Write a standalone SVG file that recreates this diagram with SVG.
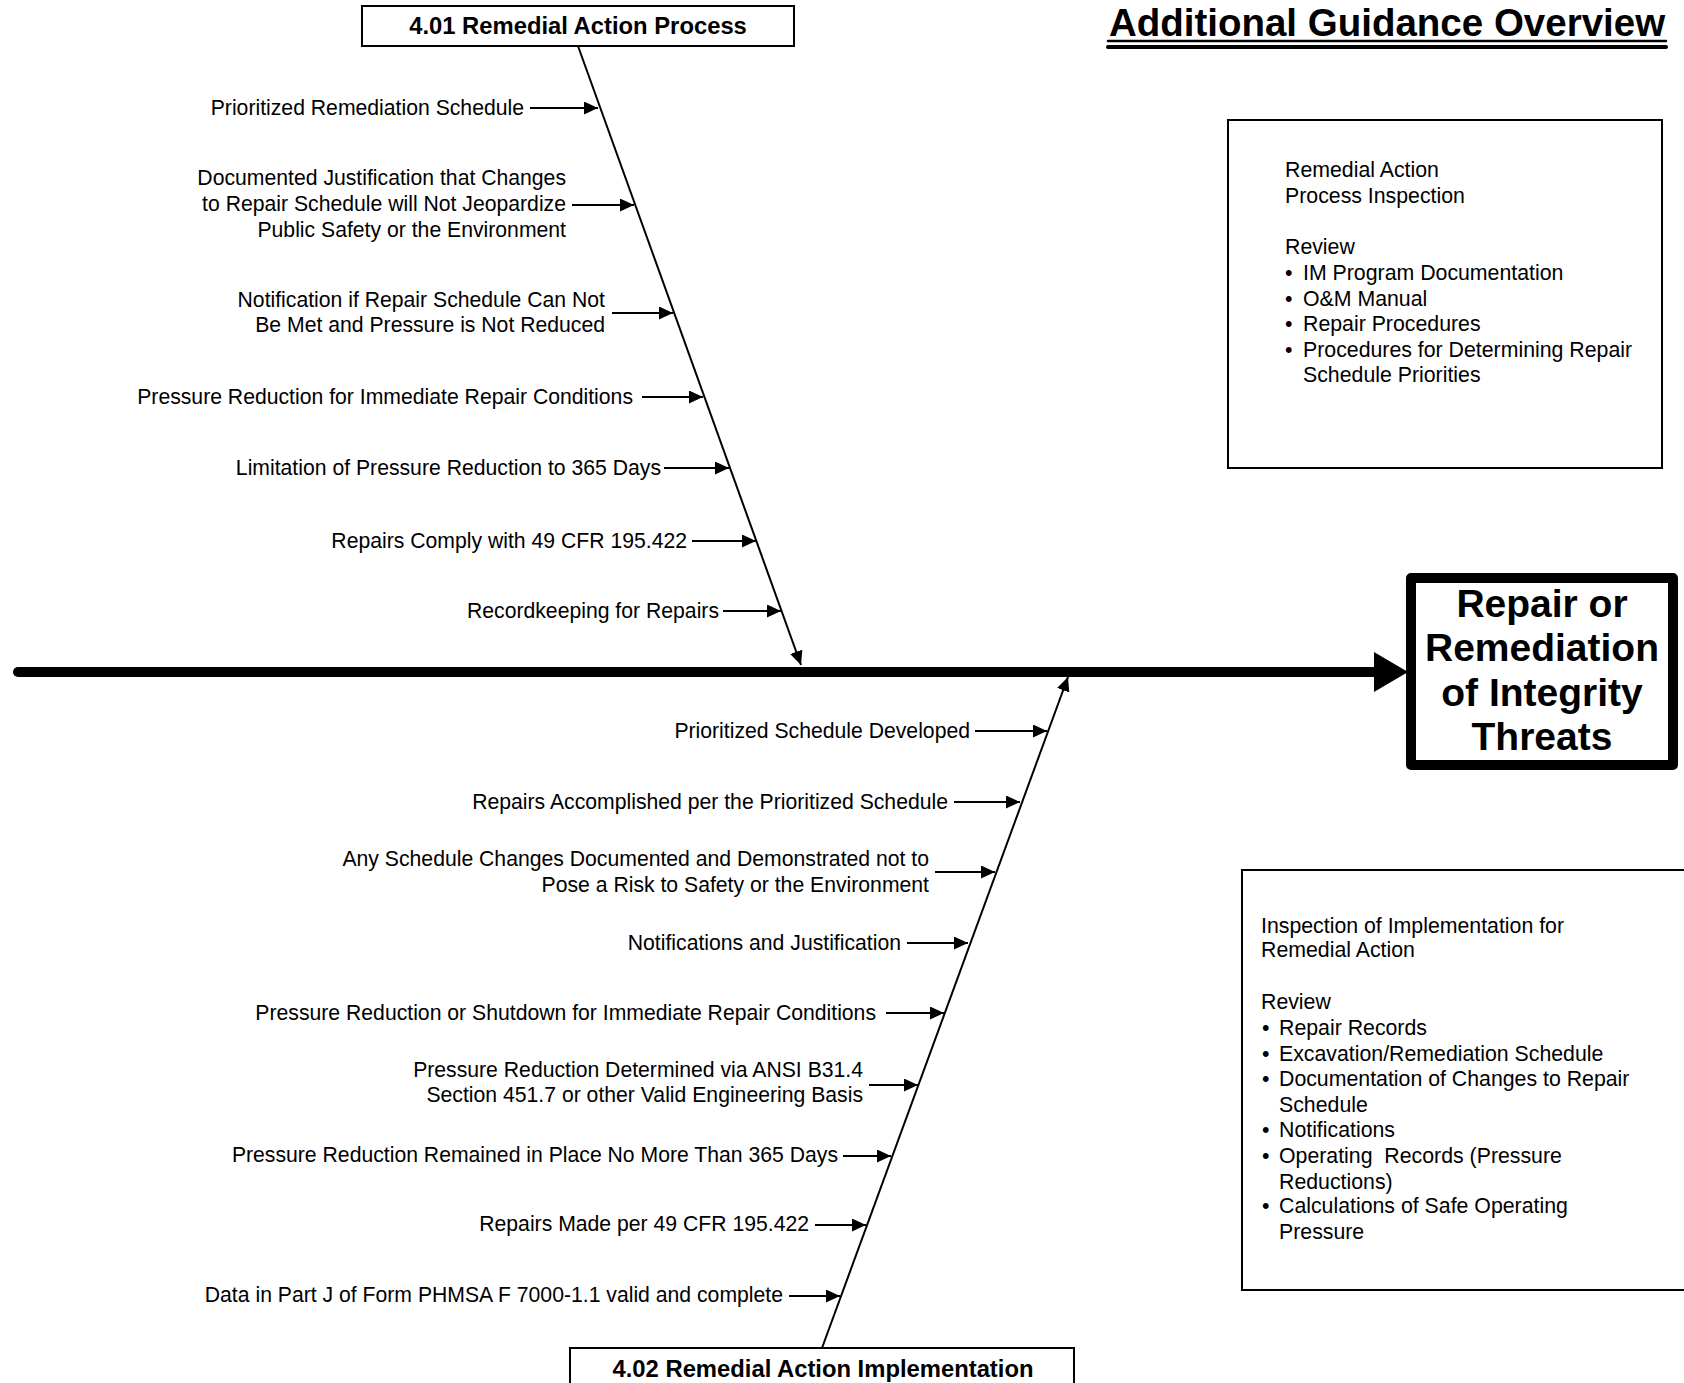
<svg xmlns="http://www.w3.org/2000/svg" width="1684" height="1383" viewBox="0 0 1684 1383">
  <style>
    text { font-family: "Liberation Sans", Arial, sans-serif; fill: #000; }
    .lbl { font-size: 21.2px; text-anchor: end; }
    .note { font-size: 21.3px; }
    .cat { font-size: 23.8px; font-weight: bold; text-anchor: middle; }
    .head { font-size: 39px; font-weight: bold; text-anchor: middle; }
    .box { fill: #fff; stroke: #000; stroke-width: 2; }
    .arrow { fill: none; stroke: #000; stroke-width: 2; marker-end: url(#tip); }
  </style>
  <defs>
    <marker id="tip" markerUnits="userSpaceOnUse" markerWidth="15" markerHeight="14" refX="14" refY="6.5" orient="auto">
      <path d="M0,0 L14,6.5 L0,13 z" fill="#000"/>
    </marker>
  </defs>

  <rect width="1684" height="1383" fill="#fff"/>

  <!-- page title -->
  <g id="title">
    <text x="1387" y="36" font-size="38.5" font-weight="bold" text-anchor="middle">Additional Guidance Overview</text>
    <line x1="1108" y1="41" x2="1666" y2="41" stroke="#000" stroke-width="2.5" stroke-linecap="round"/>
    <line x1="1108" y1="47" x2="1666" y2="47" stroke="#000" stroke-width="4" stroke-linecap="round"/>
  </g>

  <!-- main spine and connectors -->
  <g id="connectors">
    <line x1="18" y1="672" x2="1376" y2="672" stroke="#000" stroke-width="10" stroke-linecap="round"/>
    <polygon points="1374,652 1408,672 1374,692" fill="#000"/>

    <!-- upper bone -->
    <line class="arrow" x1="578" y1="46" x2="801" y2="665"/>
    <line class="arrow" x1="530" y1="108" x2="598" y2="108"/>
    <line class="arrow" x1="572" y1="205" x2="634" y2="205"/>
    <line class="arrow" x1="612" y1="313" x2="673" y2="313"/>
    <line class="arrow" x1="642" y1="397" x2="703" y2="397"/>
    <line class="arrow" x1="664" y1="468" x2="729" y2="468"/>
    <line class="arrow" x1="692" y1="541" x2="756" y2="541"/>
    <line class="arrow" x1="723" y1="611" x2="781" y2="611"/>

    <!-- lower bone -->
    <line class="arrow" x1="822" y1="1348" x2="1068" y2="677"/>
    <line class="arrow" x1="975" y1="731" x2="1047" y2="731"/>
    <line class="arrow" x1="954" y1="802" x2="1020" y2="802"/>
    <line class="arrow" x1="935" y1="872" x2="995" y2="872"/>
    <line class="arrow" x1="907" y1="943" x2="968" y2="943"/>
    <line class="arrow" x1="886" y1="1013" x2="944" y2="1013"/>
    <line class="arrow" x1="869" y1="1085" x2="918" y2="1085"/>
    <line class="arrow" x1="843" y1="1156" x2="891" y2="1156"/>
    <line class="arrow" x1="815" y1="1225" x2="866" y2="1225"/>
    <line class="arrow" x1="789" y1="1296" x2="840" y2="1296"/>
  </g>

  <!-- category: 4.01 -->
  <g id="cat-401">
    <rect class="box" x="362" y="6" width="432" height="40"/>
    <text class="cat" x="578" y="34">4.01 Remedial Action Process</text>
  </g>

  <!-- category: 4.02 -->
  <g id="cat-402">
    <rect class="box" x="570" y="1348" width="504" height="60"/>
    <text class="cat" x="823" y="1377">4.02 Remedial Action Implementation</text>
  </g>

  <!-- effect box -->
  <g id="effect">
    <rect x="1411" y="578" width="262" height="187" fill="#fff" stroke="#000" stroke-width="10" stroke-linejoin="round"/>
    <text class="head" x="1542" y="617">Repair or</text>
    <text class="head" x="1542" y="661">Remediation</text>
    <text class="head" x="1542" y="706">of Integrity</text>
    <text class="head" x="1542" y="750">Threats</text>
  </g>

  <!-- upper causes -->
  <g id="u1"><text class="lbl" x="524" y="115">Prioritized Remediation Schedule</text></g>
  <g id="u2">
    <text class="lbl" x="566" y="185">Documented Justification that Changes</text>
    <text class="lbl" x="566" y="211">to Repair Schedule will Not Jeopardize</text>
    <text class="lbl" x="566" y="237">Public Safety or the Environment</text>
  </g>
  <g id="u3">
    <text class="lbl" x="605" y="307">Notification if Repair Schedule Can Not</text>
    <text class="lbl" x="605" y="332">Be Met and Pressure is Not Reduced</text>
  </g>
  <g id="u4"><text class="lbl" x="633" y="404">Pressure Reduction for Immediate Repair Conditions</text></g>
  <g id="u5"><text class="lbl" x="661" y="475">Limitation of Pressure Reduction to 365 Days</text></g>
  <g id="u6"><text class="lbl" x="687" y="548">Repairs Comply with 49 CFR 195.422</text></g>
  <g id="u7"><text class="lbl" x="719" y="618">Recordkeeping for Repairs</text></g>

  <!-- lower causes -->
  <g id="l1"><text class="lbl" x="970" y="738">Prioritized Schedule Developed</text></g>
  <g id="l2"><text class="lbl" x="948" y="809">Repairs Accomplished per the Prioritized Schedule</text></g>
  <g id="l3">
    <text class="lbl" x="929" y="866">Any Schedule Changes Documented and Demonstrated not to</text>
    <text class="lbl" x="929" y="892">Pose a Risk to Safety or the Environment</text>
  </g>
  <g id="l4"><text class="lbl" x="901" y="950">Notifications and Justification</text></g>
  <g id="l5"><text class="lbl" x="876" y="1020">Pressure Reduction or Shutdown for Immediate Repair Conditions</text></g>
  <g id="l6">
    <text class="lbl" x="863" y="1077">Pressure Reduction Determined via ANSI B31.4</text>
    <text class="lbl" x="863" y="1102">Section 451.7 or other Valid Engineering Basis</text>
  </g>
  <g id="l7"><text class="lbl" x="838" y="1162">Pressure Reduction Remained in Place No More Than 365 Days</text></g>
  <g id="l8"><text class="lbl" x="809" y="1231">Repairs Made per 49 CFR 195.422</text></g>
  <g id="l9"><text class="lbl" x="783" y="1302">Data in Part J of Form PHMSA F 7000-1.1 valid and complete</text></g>

  <!-- guidance: process inspection -->
  <g id="guide-process">
    <rect class="box" x="1228" y="120" width="434" height="348"/>
    <text class="note" x="1285" y="177">Remedial Action</text>
    <text class="note" x="1285" y="203">Process Inspection</text>
    <text class="note" x="1285" y="254">Review</text>
    <text class="note" x="1285" y="280">•</text><text class="note" x="1303" y="280">IM Program Documentation</text>
    <text class="note" x="1285" y="306">•</text><text class="note" x="1303" y="306">O&amp;M Manual</text>
    <text class="note" x="1285" y="331">•</text><text class="note" x="1303" y="331">Repair Procedures</text>
    <text class="note" x="1285" y="357">•</text><text class="note" x="1303" y="357">Procedures for Determining Repair</text>
    <text class="note" x="1303" y="382">Schedule Priorities</text>
  </g>

  <!-- guidance: implementation inspection -->
  <g id="guide-implementation">
    <rect class="box" x="1242" y="870" width="460" height="420"/>
    <text class="note" x="1261" y="933">Inspection of Implementation for</text>
    <text class="note" x="1261" y="957">Remedial Action</text>
    <text class="note" x="1261" y="1009">Review</text>
    <text class="note" x="1262" y="1035">•</text><text class="note" x="1279" y="1035">Repair Records</text>
    <text class="note" x="1262" y="1061">•</text><text class="note" x="1279" y="1061">Excavation/Remediation Schedule</text>
    <text class="note" x="1262" y="1086">•</text><text class="note" x="1279" y="1086">Documentation of Changes to Repair</text>
    <text class="note" x="1279" y="1112">Schedule</text>
    <text class="note" x="1262" y="1137">•</text><text class="note" x="1279" y="1137">Notifications</text>
    <text class="note" x="1262" y="1163">•</text><text class="note" x="1279" y="1163" xml:space="preserve">Operating  Records (Pressure</text>
    <text class="note" x="1279" y="1189">Reductions)</text>
    <text class="note" x="1262" y="1213">•</text><text class="note" x="1279" y="1213">Calculations of Safe Operating</text>
    <text class="note" x="1279" y="1239">Pressure</text>
  </g>
</svg>
